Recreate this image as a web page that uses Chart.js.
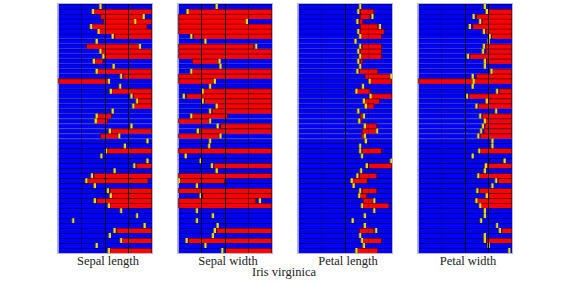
<!DOCTYPE html>
<html>
<head>
<meta charset="utf-8">
<script src="https://cdn.jsdelivr.net/npm/chart.js@4"></script>
<style>
  html, body { margin: 0; padding: 0; background: #fff; }
  body { width: 568px; height: 283px; position: relative; overflow: hidden; font-family: "Liberation Serif", serif; }
  .panel { position: absolute; top: 3px; width: 96px; height: 251px; box-sizing: border-box; border: 1px solid #b4b8c8; }
  .panel canvas { display: block; }
  .lbl { position: absolute; top: 254px; font-size: 12.5px; color: #222; transform: translateX(-50%); white-space: nowrap; }
  #title { position: absolute; top: 265px; left: 284px; font-size: 12.5px; color: #222; transform: translateX(-50%); white-space: nowrap; }
</style>
</head>
<body>
<div id="charts"></div>
<div id="title">Iris virginica</div>
<script>
const features = ["Sepal length", "Sepal width", "Petal length", "Petal width"];
const rows = Array.from({ length: 50 }, (_, i) => "sample " + (i + 1));

// red span per sample (feature range scaled 0-100), null = none
const sepalLengthRed = [null, [37,100], [45,91], [48,100], [35,95], [43,100], [60,100], null, [30,87], [46,100],
  [48,100], [39,48], null, [42,100], [69,100], [0,53], null, [57,100], [80,100], [85,100],
  [81,100], null, [42,57], [40,53], null, [56,100], [45,64], null, null, [52,100],
  null, null, [83,100], null, [38,100], [31,96], null, [55,100], [57,100], [41,100],
  [55,100], null, null, null, null, [62,100], null, [68,100], null, [55,100]];
const sepalLengthMark = [45, 37, 91, 82, 35, 43, 58, 41, 87, 45, 48, 38, 59, 41, 67, 54, 66, 56, 78, 84,
  80, 58, 41, 40, 78, 55, 65, 95, 71, 51, 46, 95, 81, 60, 36, 30, 39, 53, 56, 39,
  54, 67, 84, 16, 92, 60, 55, 67, 41, 54];

const sepalWidthRed = [null, [11,100], [0,100], [0,72], [0,100], [0,100], [16,100], null, [0,81], [0,100],
  [0,100], [15,43], null, [15,100], [0,100], [0,38], null, [27,100], [9,100], [28,100],
  [42,100], [36,100], [15,53], [0,33], [45,100], [23,100], [0,44], null, null, [0,100],
  null, null, [38,100], null, [0,100], [2,50], null, [0,100], [26,100], [0,83],
  [0,100], null, null, null, null, [41,100], null, [11,100], null, [50,100]];
const sepalWidthMark = [41, 10, null, 73, null, null, 14, 29, 83, null, null, 44, 45, 14, null, 39, 34, 26, 6, 26,
  41, 34, 14, 34, 42, 21, 45, 34, 33, null, 8, 24, 36, 41, null, 1, 20, null, 24, 87,
  null, 20, 37, 20, 42, 39, 37, 9, 29, 47];

const petalLengthRed = [null, [66,81], [66,77], [65,69], [66,85], [66,92], [66,89], null, [68,89], [66,89],
  [67,89], [66,69], null, [65,85], [71,98], [77,100], null, [63,77], [78,100], [71,87],
  [73,81], null, [66,69], [66,68], [72,84], [68,84], [67,70], null, null, [68,89],
  null, null, [75,100], null, [65,84], [58,74], null, [68,84], [66,73], [69,80],
  [69,97], null, null, null, null, [65,81], null, [69,89], null, [63,85]];
const petalLengthMark = [66, 64, 79, 63, 87, 64, 66, 61, 66, 64, 66, 64, 66, 63, 99, 76, 69, 62, 77, 70,
  72, 64, 70, 65, 71, 84, 71, 72, 66, 66, 68, 99, 73, 67, 63, 57, 59, 66, 65, 81,
  68, 81, 71, 58, 71, 83, 66, 68, 70, 62];

const petalWidthRed = [null, [75,100], [62,100], [68,100], [58,100], [72,100], [78,100], null, [72,100], [72,100],
  [55,100], [73,100], null, [79,100], [62,100], [0,100], null, [86,100], [54,100], [75,100],
  [64,100], null, [68,100], [70,100], [71,100], [70,100], [66,100], null, null, [66,100],
  null, null, [73,100], null, [65,100], [85,100], null, [65,100], [73,100], [63,100],
  [66,100], null, null, null, null, [89,100], null, [73,100], null, null];
const petalWidthMark = [71, 73, 59, 66, 55, 70, 76, 75, 70, 69, 53, 71, 71, 78, 58, 59, 58, 84, 52, 73,
  62, 83, 66, 71, 69, 67, 64, 79, 79, 65, 58, 92, 72, 71, 64, 83, 79, 63, 73, 62,
  66, 71, 71, 67, 84, 87, 71, 71, 75, 97];

const redSpans = [sepalLengthRed, sepalWidthRed, petalLengthRed, petalWidthRed];
const marks = [sepalLengthMark, sepalWidthMark, petalLengthMark, petalWidthMark];

// vertical guide lines at 25/50/75, strength per panel
const guideAlpha = [
  { 25: 0.45, 50: 1, 75: 1 },
  { 25: 1, 50: 1, 75: 0.45 },
  { 25: 0.2, 50: 1, 75: 0.2 },
  { 25: 0.2, 50: 1, 75: 1 },
];

const container = document.getElementById("charts");

features.forEach((name, p) => {
  const left = 57 + 120 * p;
  const box = document.createElement("div");
  box.className = "panel";
  box.style.left = left + "px";
  const cv = document.createElement("canvas");
  cv.width = 94;
  cv.height = 249;
  box.appendChild(cv);
  container.appendChild(box);

  const lbl = document.createElement("div");
  lbl.className = "lbl";
  lbl.style.left = (left + 51) + "px";
  lbl.textContent = name;
  container.appendChild(lbl);

  const markBars = marks[p].map((m) => (m == null ? null : [m - 1.4, m + 1.4]));

  new Chart(cv, {
    type: "bar",
    data: {
      labels: rows,
      datasets: [
        {
          data: markBars,
          backgroundColor: "#eedd00",
          borderColor: "#6a6414",
          borderWidth: { left: 1, right: 0, top: 0, bottom: 0 },
          borderSkipped: false,
          grouped: false,
          barPercentage: 1,
          categoryPercentage: 1,
        },
        {
          data: redSpans[p],
          backgroundColor: "#ff0000",
          borderColor: "#5a0000",
          borderWidth: { left: 1, right: 1, top: 1, bottom: 0 },
          borderSkipped: false,
          grouped: false,
          barPercentage: 1,
          categoryPercentage: 1,
        },
        {
          data: rows.map(() => [0, 100]),
          backgroundColor: "#0000ff",
          borderColor: "#00005c",
          borderWidth: { left: 0, right: 0, top: 1, bottom: 0 },
          borderSkipped: false,
          grouped: false,
          barPercentage: 1,
          categoryPercentage: 1,
        },
      ],
    },
    options: {
      indexAxis: "y",
      responsive: false,
      animation: false,
      layout: { padding: 0 },
      plugins: { legend: { display: false }, tooltip: { enabled: false } },
      scales: {
        x: {
          min: 0,
          max: 100,
          ticks: { display: false, stepSize: 25 },
          border: { display: false },
          grid: {
            z: 1,
            drawTicks: false,
            color: (ctx) => {
              const a = guideAlpha[p][ctx.tick && ctx.tick.value];
              return a ? `rgba(0,0,20,${a})` : "rgba(0,0,0,0)";
            },
          },
        },
        y: { display: false },
      },
    },
  });
});
</script>
</body>
</html>
